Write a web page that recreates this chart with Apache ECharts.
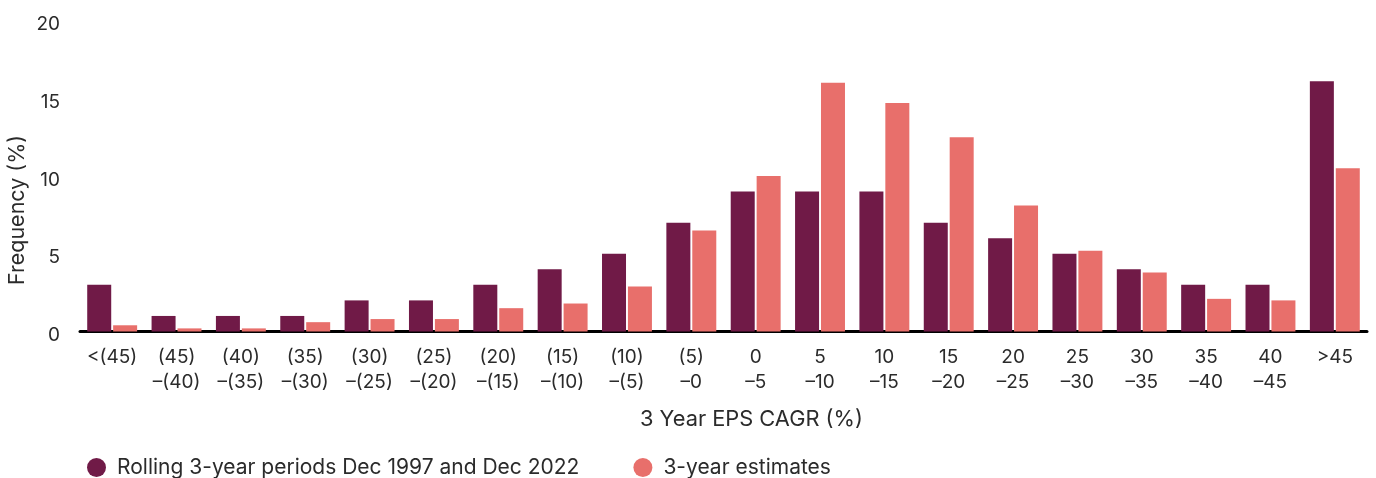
<!DOCTYPE html>
<html>
<head>
<meta charset="utf-8">
<script src="https://cdn.jsdelivr.net/npm/echarts@6/dist/echarts.min.js"></script>
<style>
html,body{margin:0;padding:0;background:#fff;}
#chart{width:1376px;height:478px;}
</style>
</head>
<body>
<div id="chart"></div>
<script>
const categories = ['<(45)', '(45)\n–(40)', '(40)\n–(35)', '(35)\n–(30)', '(30)\n–(25)', '(25)\n–(20)', '(20)\n–(15)', '(15)\n–(10)', '(10)\n–(5)', '(5)\n–0', '0\n–5', '5\n–10', '10\n–15', '15\n–20', '20\n–25', '25\n–30', '30\n–35', '35\n–40', '40\n–45', '>45'];
const rolling = [3, 1, 1, 1, 2, 2, 3, 4, 5, 7, 9, 9, 9, 7, 6, 5, 4, 3, 3, 16.1];
const estimates = [0.4, 0.2, 0.2, 0.6, 0.8, 0.8, 1.5, 1.8, 2.9, 6.5, 10, 16, 14.7, 12.5, 8.1, 5.2, 3.8, 2.1, 2.0, 10.5];
const yTicks = { min: 0, max: 20, interval: 5 };
const seriesNames = ['Rolling 3-year periods Dec 1997 and Dec 2022', '3-year estimates'];

const FONT = 'Inter';
const TXT = '#2b2b2b';
const chart = echarts.init(document.getElementById('chart'), null, { renderer: 'canvas' });
chart.setOption({
  animation: false,
  textStyle: { fontFamily: FONT, color: TXT },
  grid: { left: 80, right: 9, top: 20.5, bottom: 146.5, containLabel: false },
  legend: {
    left: 82, top: 452,
    icon: 'circle', itemWidth: 19, itemHeight: 19, itemGap: 54,
    textStyle: { fontFamily: FONT, fontSize: 21, color: TXT, padding: [0, 0, 0, 6] },
    data: seriesNames
  },
  xAxis: {
    type: 'category',
    data: categories,
    axisLine: { show: true, lineStyle: { color: '#000', width: 3 } },
    axisTick: { show: false },
    axisLabel: { interval: 0, fontSize: 19, color: TXT, lineHeight: 25, margin: 13, fontFamily: FONT }
  },
  yAxis: {
    type: 'value',
    min: yTicks.min, max: yTicks.max, interval: yTicks.interval,
    splitLine: { show: false },
    axisLine: { show: false },
    axisTick: { show: false },
    axisLabel: {
      fontSize: 19, color: TXT, margin: 20, fontFamily: FONT,
      formatter: '{a|{value}}',
      rich: { a: { fontSize: 19, color: TXT, fontFamily: FONT, padding: [8, 0, 0, 0] } }
    }
  },
  graphic: [
    { type: 'text', left: 640, top: 408, style: { text: '3 Year EPS CAGR (%)', fontSize: 21.8, fill: TXT, fontFamily: FONT } },
    { type: 'text', x: 18, y: 210, rotation: Math.PI / 2, style: { text: 'Frequency (%)', fontSize: 21.5, fill: TXT, fontFamily: FONT, align: 'center', verticalAlign: 'middle' } }
  ],
  series: [
    { name: seriesNames[0], type: 'bar', data: rolling, barWidth: 24, barGap: '8%', itemStyle: { color: '#701a47' } },
    { name: seriesNames[1], type: 'bar', data: estimates, barWidth: 24, itemStyle: { color: '#e86f6b' } }
  ]
});
</script>
</body>
</html>
